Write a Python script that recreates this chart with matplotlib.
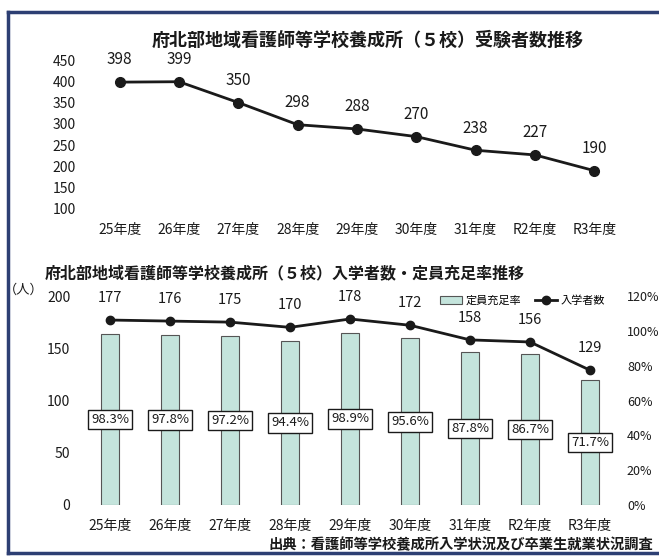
import matplotlib
matplotlib.use("Agg")
import matplotlib.pyplot as plt
from matplotlib.lines import Line2D
import numpy as np

plt.rcParams['font.family'] = ['Noto Sans CJK JP', 'DejaVu Sans']

years = ["25年度", "26年度", "27年度", "28年度", "29年度", "30年度", "31年度", "R2年度", "R3年度"]
applicants = [398, 399, 350, 298, 288, 270, 238, 227, 190]
enrolled = [177, 176, 175, 170, 178, 172, 158, 156, 129]
fill_rate = [98.3, 97.8, 97.2, 94.4, 98.9, 95.6, 87.8, 86.7, 71.7]

top_title = "府北部地域看護師等学校養成所（５校）受験者数推移"
bottom_title = "府北部地域看護師等学校養成所（５校）入学者数・定員充足率推移"
source_text = "出典：看護師等学校養成所入学状況及び卒業生就業状況調査"

W, H = 659, 559
fig = plt.figure(figsize=(W / 100, H / 100), dpi=100)
fig.patch.set_facecolor("white")

def box(l, t, r, b):
    return [l / W, 1 - b / H, (r - l) / W, (b - t) / H]

x = np.arange(len(years))

# ---------- top chart ----------
ax1 = fig.add_axes(box(90, 60, 624, 209))
ax1.plot(x, applicants, color="#1a1a1a", lw=2, marker="o", ms=7, clip_on=False)
for xi, v in zip(x, applicants):
    ax1.annotate(str(v), (xi, v), xytext=(0, 16), textcoords="offset points",
                 ha="center", va="center", fontsize=11, color="#1a1a1a")
ax1.set_xlim(-0.5, len(years) - 0.5)
ax1.set_ylim(100, 450)
ax1.set_yticks(range(100, 451, 50))
ax1.set_xticks(x)
ax1.set_xticklabels(years)
for s in ax1.spines.values():
    s.set_visible(False)
ax1.tick_params(length=0, labelsize=10, colors="#1a1a1a")
ax1.tick_params(axis="x", pad=10)
ax1.tick_params(axis="y", pad=10)
fig.text(368 / W, 1 - 40 / H, top_title, ha="center", va="center",
         fontsize=13, fontweight="bold", color="#1a1a1a")

# ---------- bottom chart ----------
axb = fig.add_axes(box(80, 296, 620, 505))
axr = axb.twinx()
axb.set_zorder(2)
axb.patch.set_visible(False)

axr.bar(x, fill_rate, width=0.31, color="#c4e4dc", edgecolor="#555555",
        linewidth=0.8, label="定員充足率")
for xi, v in zip(x, fill_rate):
    axr.text(xi, v / 2, f"{v:.1f}%", ha="center", va="center", fontsize=9.5,
             color="#1a1a1a",
             bbox=dict(boxstyle="square,pad=0.25", fc="white", ec="#1a1a1a", lw=1))
axr.set_ylim(0, 120)
axr.set_yticks(range(0, 121, 20))
axr.set_yticklabels([f"{t}%" for t in range(0, 121, 20)])

axb.plot(x, enrolled, color="#1a1a1a", lw=2, marker="o", ms=6, label="入学者数")
for xi, v in zip(x, enrolled):
    axb.annotate(str(v), (xi, v), xytext=(0, 16), textcoords="offset points",
                 ha="center", va="center", fontsize=10.5, color="#1a1a1a")
axb.set_ylim(0, 200)
axb.set_yticks(range(0, 201, 50))
axb.set_xlim(-0.5, len(years) - 0.5)
axb.set_xticks(x)
axb.set_xticklabels(years)
for a in (axb, axr):
    for s in a.spines.values():
        s.set_visible(False)
    a.tick_params(length=0, labelsize=10, colors="#1a1a1a")
axb.tick_params(axis="x", pad=10)
axb.tick_params(axis="y", pad=7)
axr.tick_params(axis="y", pad=5, labelsize=9)

h1, l1 = axr.get_legend_handles_labels()
h2, l2 = axb.get_legend_handles_labels()
axb.legend(h1 + h2, l1 + l2, loc="upper right", bbox_to_anchor=(0.99, 1.05),
           ncol=2, frameon=False, fontsize=8, handlelength=2.0,
           handletextpad=0.3, columnspacing=1.2)

fig.text(45 / W, 1 - 273 / H, bottom_title, ha="left", va="center",
         fontsize=11.5, fontweight="bold", color="#1a1a1a")
fig.text(4 / W, 1 - 290 / H, "（人）", ha="left", va="center",
         fontsize=9.5, color="#1a1a1a")
fig.text(268 / W, 1 - 545 / H, source_text, ha="left", va="center",
         fontsize=10.3, fontweight="bold", color="#1a1a1a")

# ---------- frame ----------
fc = "#2d3f73"
fig.add_artist(Line2D([8 / W, 1.0], [1 - 12 / H, 1 - 12 / H], color=fc, lw=2.5))
fig.add_artist(Line2D([8 / W, 8 / W], [1 - 12 / H, 1 - 553 / H], color=fc, lw=2.5))
fig.add_artist(Line2D([8 / W, 1.0], [1 - 553 / H, 1 - 553 / H], color=fc, lw=2.5))

fig.savefig("out.png", dpi=100)
